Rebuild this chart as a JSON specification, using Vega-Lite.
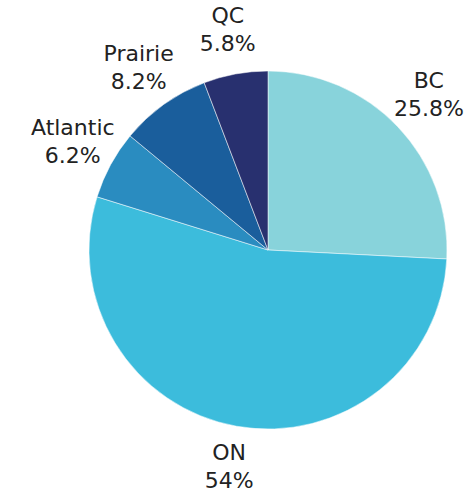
{
  "$schema": "https://vega.github.io/schema/vega-lite/v6.json",
  "autosize": "none",
  "width": 536,
  "height": 500,
  "padding": 0,
  "background": "white",
  "view": {"stroke": null},
  "data": {
    "values": [
      {"region": "BC", "share": 25.8, "label": "BC", "pct": "25.8%", "order": 1},
      {"region": "ON", "share": 54, "label": "ON", "pct": "54%", "order": 2},
      {"region": "Atlantic", "share": 6.2, "label": "Atlantic", "pct": "6.2%", "order": 3},
      {"region": "Prairie", "share": 8.2, "label": "Prairie", "pct": "8.2%", "order": 4},
      {"region": "QC", "share": 5.8, "label": "QC", "pct": "5.8%", "order": 5}
    ]
  },
  "encoding": {
    "theta": {"field": "share", "type": "quantitative", "stack": true},
    "order": {"field": "order", "type": "quantitative"},
    "color": {
      "field": "region",
      "type": "nominal",
      "legend": null,
      "scale": {
        "domain": ["BC", "ON", "Atlantic", "Prairie", "QC"],
        "range": ["#88D3DB", "#3CBCDC", "#2A8CC0", "#1A5E9C", "#28306F"]
      }
    }
  },
  "layer": [
    {
      "mark": {"type": "arc", "outerRadius": 179, "stroke": "white", "strokeWidth": 0.5}
    },
    {
      "mark": {
        "type": "text",
        "radius": 222,
        "dy": -16,
        "font": "DejaVu Sans",
        "fontSize": 22,
        "lineHeight": 28,
        "align": "center",
        "baseline": "middle"
      },
      "encoding": {
        "text": {"field": "textLines"},
        "color": {"value": "#222222"}
      },
      "transform": [{"calculate": "[datum.label, datum.pct]", "as": "textLines"}]
    }
  ]
}
